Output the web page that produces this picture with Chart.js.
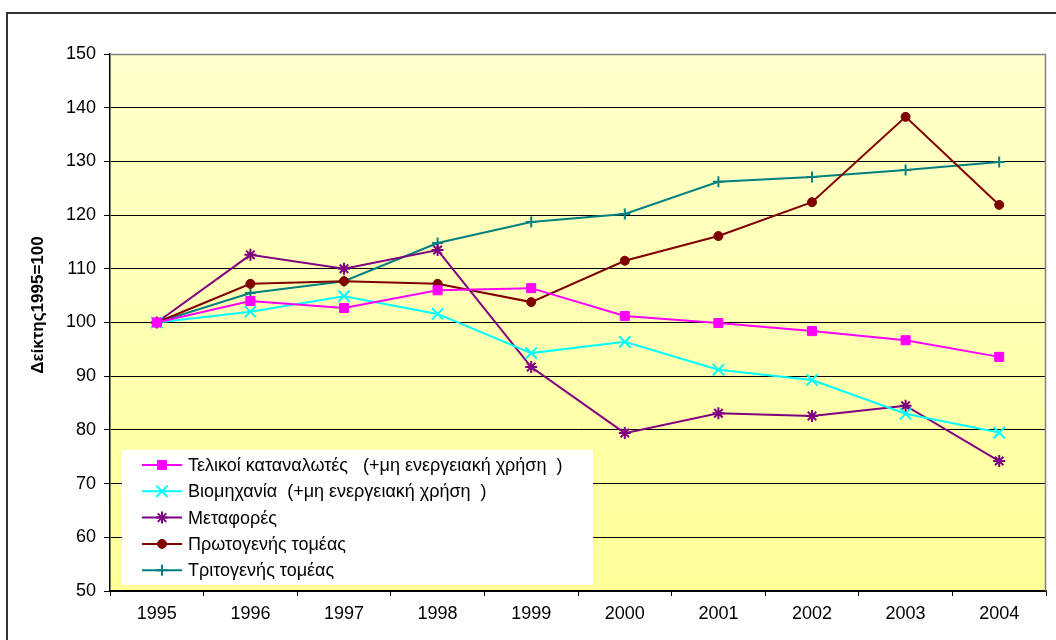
<!DOCTYPE html>
<html>
<head>
<meta charset="utf-8">
<script src="https://cdn.jsdelivr.net/npm/chart.js@4/dist/chart.umd.min.js"></script>
<style>
  html, body { margin: 0; padding: 0; background: #fff; }
  #wrap { width: 1056px; height: 640px; position: relative; }
</style>
</head>
<body>
<div id="wrap"><canvas id="chart"></canvas></div>
<script>
// Energy index by sector, 1995 = 100

var years = ['1995', '1996', '1997', '1998', '1999', '2000', '2001', '2002', '2003', '2004'];

var finalConsumers = [100, 104.0, 102.7, 106.0, 106.4, 101.2, 99.9, 98.4, 96.7, 93.6];
var industry       = [100, 102.0, 104.9, 101.6, 94.3, 96.4, 91.2, 89.3, 83.0, 79.5];
var transport      = [100, 112.6, 110.0, 113.5, 91.7, 79.4, 83.1, 82.6, 84.5, 74.2];
var primarySector  = [100, 107.2, 107.7, 107.2, 103.8, 111.5, 116.1, 122.4, 138.3, 121.9];
var tertiarySector = [100, 105.5, 107.7, 114.8, 118.7, 120.2, 126.2, 127.1, 128.4, 129.9];

var seriesNames = [
    'Τελικοί καταναλωτές   (+μη ενεργειακή χρήση  )',
    'Βιομηχανία  (+μη ενεργειακή χρήση  )',
    'Μεταφορές',
    'Πρωτογενής τομέας',
    'Τριτογενής τομέας'
];

var yTicks = [50, 60, 70, 80, 90, 100, 110, 120, 130, 140, 150];
var yTitle = 'Δείκτης1995=100';

var FONT = "'Liberation Sans', Arial, sans-serif";

function makeSet(label, data, color, style, radius) {
    return {
        label: label,
        data: data,
        borderColor: color,
        backgroundColor: color,
        borderWidth: 2,
        pointStyle: style,
        pointRadius: radius,
        pointHoverRadius: radius,
        pointBorderWidth: style === 'rect' || style === 'circle' ? 1 : 2,
        tension: 0
    };
}

// Frame, gradient plot background and the y title
var backgroundPlugin = {
    id: 'background',
    beforeDraw: function (chart) {
        var ctx = chart.ctx, a = chart.chartArea;
        ctx.save();
        ctx.strokeStyle = '#333';
        ctx.lineWidth = 2;
        ctx.strokeRect(7, 13, 1100, 700);
        var g = ctx.createLinearGradient(0, a.top, 0, a.bottom);
        g.addColorStop(0, '#FFFFCC');
        g.addColorStop(1, '#FFFF99');
        ctx.fillStyle = g;
        ctx.fillRect(a.left, a.top, a.right - a.left, a.bottom - a.top);

        ctx.translate(38, 305);
        ctx.rotate(-Math.PI / 2);
        ctx.font = 'bold 17px ' + FONT;
        ctx.fillStyle = '#000';
        ctx.textAlign = 'center';
        ctx.textBaseline = 'middle';
        ctx.fillText(yTitle, 0, 0);
        ctx.restore();
    },
    afterDraw: function (chart) {
        var ctx = chart.ctx, a = chart.chartArea;
        ctx.save();
        ctx.strokeStyle = '#808080';
        ctx.lineWidth = 1.5;
        ctx.beginPath();
        ctx.moveTo(a.left, a.top + 0.5);
        ctx.lineTo(a.right - 0.5, a.top + 0.5);
        ctx.lineTo(a.right - 0.5, a.bottom);
        ctx.stroke();
        ctx.restore();
    }
};

// Legend box inside the plot, lower left
var legendPlugin = {
    id: 'boxLegend',
    afterDatasetsDraw: function (chart) {
        var ctx = chart.ctx;
        var x0 = 122, y0 = 450, w = 471, h = 135;
        ctx.save();
        ctx.fillStyle = '#fff';
        ctx.fillRect(x0, y0, w, h);
        ctx.font = '18px ' + FONT;
        ctx.textBaseline = 'middle';
        chart.data.datasets.forEach(function (ds, i) {
            var y = y0 + 15 + i * 26.3;
            ctx.strokeStyle = ds.borderColor;
            ctx.lineWidth = 2;
            ctx.beginPath();
            ctx.moveTo(142, y);
            ctx.lineTo(182, y);
            ctx.stroke();
            ctx.fillStyle = ds.backgroundColor;
            ctx.lineWidth = ds.pointBorderWidth;
            Chart.helpers.drawPoint(ctx, {
                pointStyle: ds.pointStyle,
                radius: ds.pointRadius,
                rotation: 0,
                borderWidth: ds.pointBorderWidth
            }, 162, y);
            ctx.fillStyle = '#000';
            ctx.fillText(ds.label, 188, y + 1);
        });
        ctx.restore();
    }
};

var canvas = document.getElementById('chart');
canvas.width = 1056;
canvas.height = 640;

new Chart(canvas.getContext('2d'), {
    type: 'line',
    data: {
        labels: years,
        datasets: [
            makeSet(seriesNames[0], finalConsumers, '#FF00FF', 'rect', 6.4),
            makeSet(seriesNames[1], industry, '#00FFFF', 'crossRot', 8),
            makeSet(seriesNames[2], transport, '#800080', 'star', 6),
            makeSet(seriesNames[3], primarySector, '#800000', 'circle', 4.5),
            makeSet(seriesNames[4], tertiarySector, '#008080', 'cross', 5.5)
        ]
    },
    options: {
        responsive: false,
        animation: false,
        devicePixelRatio: 1,
        layout: { padding: { top: 54, right: 10, left: 0, bottom: 0 } },
        plugins: {
            legend: { display: false },
            tooltip: { enabled: false }
        },
        scales: {
            x: {
                offset: true,
                afterFit: function (s) { s.height = 49; },
                grid: {
                    offset: true,
                    drawOnChartArea: false,
                    drawTicks: true,
                    tickLength: 5,
                    color: '#000',
                    tickColor: '#000'
                },
                border: { color: '#000', width: 1.5 },
                ticks: {
                    color: '#000',
                    font: { family: FONT, size: 18 },
                    padding: 7,
                    maxRotation: 0
                }
            },
            y: {
                min: 50,
                max: 150,
                afterFit: function (s) { s.width = 110; },
                afterBuildTicks: function (s) {
                    s.ticks = yTicks.map(function (v) { return { value: v }; });
                },
                grid: {
                    color: '#000',
                    tickColor: '#000',
                    tickLength: 6,
                    lineWidth: 1
                },
                border: { color: '#000', width: 1.5 },
                ticks: {
                    color: '#000',
                    font: { family: FONT, size: 18 },
                    padding: 8
                }
            }
        }
    },
    plugins: [backgroundPlugin, legendPlugin]
});
</script>
</body>
</html>
